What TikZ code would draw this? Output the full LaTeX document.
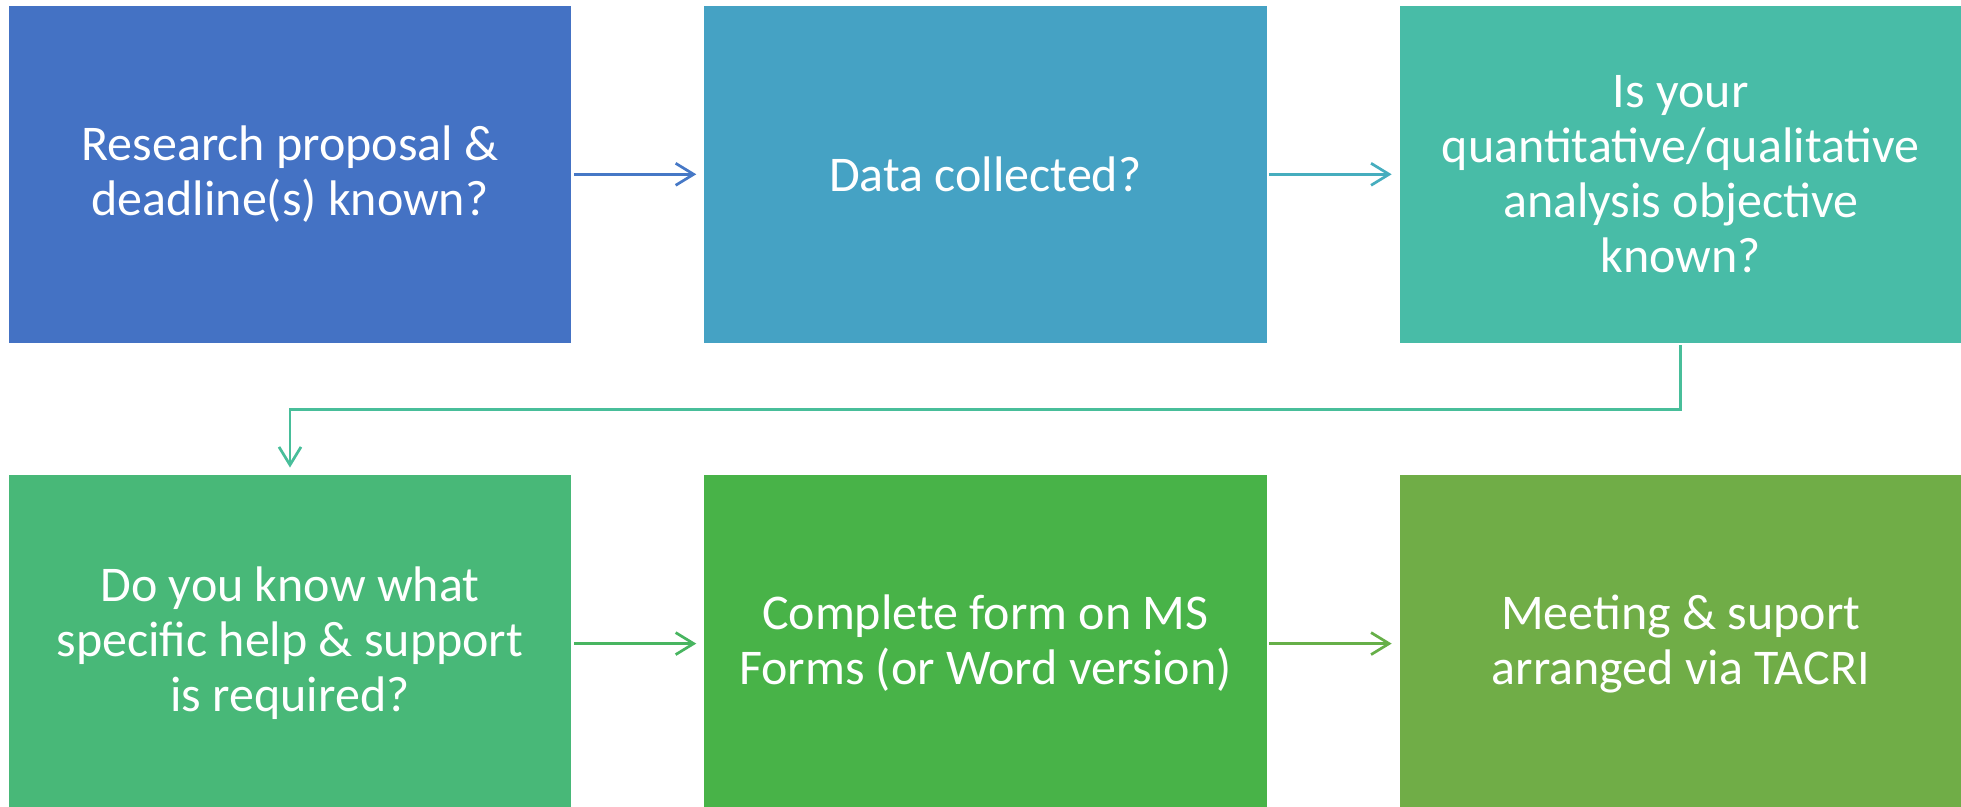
\documentclass[tikz,border=0pt]{standalone}
\usepackage{fontspec}
\setmainfont{Carlito}
\usetikzlibrary{arrows.meta}
\definecolor{boxA}{HTML}{4472C4}
\definecolor{boxB}{HTML}{45A2C4}
\definecolor{boxC}{HTML}{48BCA7}
\definecolor{boxD}{HTML}{48B878}
\definecolor{boxE}{HTML}{48B348}
\definecolor{boxF}{HTML}{70AD47}
\definecolor{lineA}{HTML}{4678C6}
\definecolor{lineB}{HTML}{46ADBE}
\definecolor{lineC}{HTML}{48BE9A}
\definecolor{lineD}{HTML}{48B560}
\definecolor{lineE}{HTML}{66AF48}
\begin{document}
\begin{tikzpicture}[x=0.02cm, y=-0.02cm,
        stepbox/.style={shape=rectangle, minimum width=11.25cm, minimum height=6.73cm, inner sep=0pt, text=white, align=center, font=\fontsize{28.45}{31.3}\selectfont},
        flowarrow/.style={line width=1.55pt, -{Straight Barb[length=0.36cm, width=0.44cm]}, shorten <=0.05cm, shorten >=0.15cm}]
            \useasboundingbox (0,0) rectangle (1961,807);

            \node[stepbox, fill=boxA] (BA) at (290, 174.3) {Research proposal \&\\deadline(s) known?};
            \node[stepbox, fill=boxB] (BB) at (985.3, 174.3) {Data collected?};
            \node[stepbox, fill=boxC] (BC) at (1680.7, 174.3) {Is your\\quantitative/qualitative\\analysis objective\\known?};

            \draw[flowarrow, draw=lineA] (BA) -- (BB);
            \draw[flowarrow, draw=lineB] (BB) -- (BC);

            \node[stepbox, fill=boxD] (BD) at (290, 643.6) {Do you know what\\specific help \& support\\is required?};
            \node[stepbox, fill=boxE] (BE) at (985.3, 643.6) {Complete form on MS\\Forms (or Word version)};
            \node[stepbox, fill=boxF] (BF) at (1680.7, 643.6) {Meeting \& suport\\arranged via TACRI};

            \draw[flowarrow, draw=lineC] (BC.south) -- ++(0, 66.3) -| (BD.north);
            \draw[flowarrow, draw=lineD] (BD) -- (BE);
            \draw[flowarrow, draw=lineE] (BE) -- (BF);
        \end{tikzpicture}
\end{document}
